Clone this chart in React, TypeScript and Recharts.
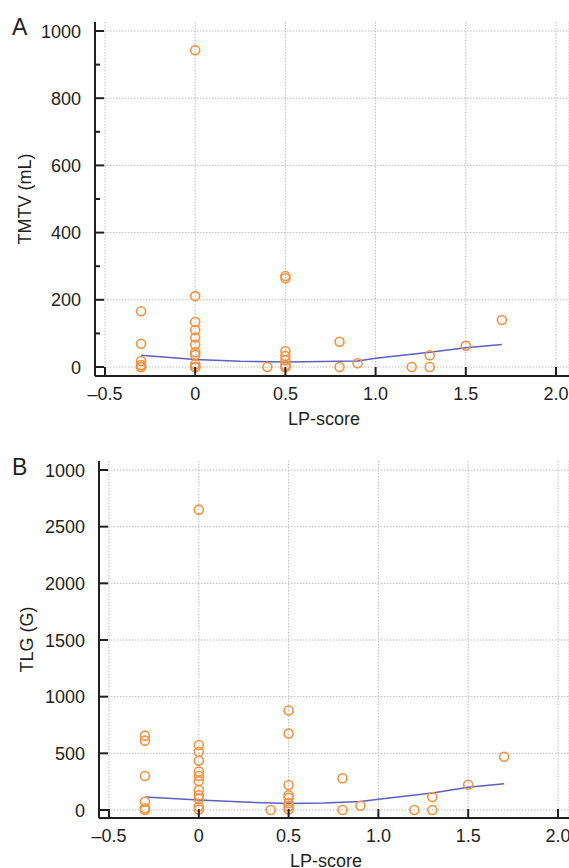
import React from "react";
import { ComposedChart, Scatter, XAxis, YAxis, CartesianGrid, Label, ReferenceLine } from "recharts";

const lpScores = [-0.3, 0, 0.4, 0.5, 0.8, 0.9, 1.2, 1.3, 1.5, 1.7];

// TMTV (mL) per LP-score group
const tmtvValues = [
  [166, 69, 18, 6, 0, 0],
  [943, 211, 134, 110, 88, 66, 44, 36, 8, 0, 0, 0],
  [0],
  [271, 264, 47, 33, 20, 5, 0, 0],
  [75, 0],
  [11],
  [0],
  [35, 0],
  [63],
  [140],
];

// TLG (G) per LP-score group
const tlgValues = [
  [656, 612, 300, 73, 15, 0],
  [2650, 574, 512, 435, 340, 300, 255, 176, 130, 100, 30, 5],
  [0],
  [878, 674, 221, 130, 108, 60, 30, 5],
  [280, 0],
  [38],
  [0],
  [115, 0],
  [223],
  [470],
];

// fitted curves
const fitX = [-0.3, 0, 0.25, 0.5, 0.7, 0.9, 1.0, 1.3, 1.5, 1.7];
const tmtvFit = [35, 22, 17, 15, 16, 18, 26, 44, 57, 67];
const tlgFit = [115, 88, 70, 58, 62, 75, 95, 150, 200, 232];

const xTicks = [-0.5, 0, 0.5, 1, 1.5, 2];
const xTickLabels = ["\u20130.5", "0", "0.5", "1.0", "1.5", "2.0"];
const tmtvTicks = [0, 100, 200, 300, 400, 500, 600, 700, 800, 900, 1000];
const tmtvMajor = [0, 200, 400, 600, 800, 1000];
const tlgTicks = [0, 500, 1000, 1500, 2000, 2500, 3000];
const tlgTickLabels = ["0", "500", "1000", "1500", "2000", "2500", "1000"];

const toPoints = (groups: number[][]) =>
  groups.flatMap((vals, i) => vals.map((y) => ({ x: lpScores[i], y })));
const toCurve = (ys: number[]) => ys.map((y, i) => ({ x: fitX[i], y }));

const INK = "#231f20";
const ORANGE = "#f7913f";
const BLUE = "#5d5fc4";
const GRID = "#bdbdbd";
const FONT = 18;

const Dot = (p: any) => (
  <circle cx={p.cx} cy={p.cy} r={4.5} fill="none" stroke={ORANGE} strokeWidth={1.6} />
);
const NoDot = () => <g />;

const XTick = (p: any) => {
  const i = xTicks.indexOf(p.payload.value);
  return (
    <g>
      <line x1={p.x} y1={p.y} x2={p.x} y2={p.y - 9} stroke={INK} strokeWidth={2} />
      <text x={p.x} y={p.y + 24} textAnchor="middle" fontSize={FONT} fill={INK}>
        {xTickLabels[i]}
      </text>
    </g>
  );
};

const makeYTick = (majors: number[], labels?: string[], ticks?: number[]) => (p: any) => {
  const v = p.payload.value;
  const major = majors.includes(v);
  const label = labels && ticks ? labels[ticks.indexOf(v)] : String(v);
  return (
    <g>
      <line x1={p.x} y1={p.y} x2={p.x + (major ? 9 : 5)} y2={p.y} stroke={INK} strokeWidth={2} />
      {major && (
        <text x={p.x - 14} y={p.y + 6.5} textAnchor="end" fontSize={FONT} fill={INK}>
          {label}
        </text>
      )}
    </g>
  );
};

const yTitle = (text: string, x: number) => (p: any) => {
  const vb = p.viewBox;
  const cy = vb.y + vb.height / 2;
  return (
    <text x={x} y={cy} transform={`rotate(-90, ${x}, ${cy})`} textAnchor="middle" dominantBaseline="central" fontSize={FONT} fill={INK}>
      {text}
    </text>
  );
};

const xTitle = (text: string, dx: number, dy: number) => (p: any) => {
  const vb = p.viewBox;
  return (
    <text x={vb.x + vb.width / 2 + dx} y={vb.y + dy} textAnchor="middle" fontSize={FONT} fill={INK}>
      {text}
    </text>
  );
};

type PanelProps = {
  letter: string;
  letterTop: number;
  title: string;
  points: { x: number; y: number }[];
  curve: { x: number; y: number }[];
  yDomain: [number, number];
  yTicks: number[];
  yMajor: number[];
  yLabels?: string[];
  height: number;
  top: number;
  axisWidth: number;
  xPad: { left: number; right: number };
  yPad: { top: number; bottom: number };
  xAxisHeight: number;
  titleX: number;
};

function Panel(props: PanelProps) {
  const { letter, title, points, curve, yDomain, yTicks, yMajor, yLabels } = props;
  return (
    <div style={{ position: "relative", width: 569, height: props.height }}>
      <div style={{ position: "absolute", left: 12, top: props.letterTop, fontSize: 23, lineHeight: "23px", color: INK }}>
        {letter}
      </div>
      <ComposedChart
        width={569 + 2}
        height={props.height}
        margin={{ top: props.top, right: 2, bottom: 0, left: 0 }}
      >
        <CartesianGrid horizontal={false} stroke={GRID} strokeDasharray="1.5 1.5" />
        {yMajor.map((v) => (
          <ReferenceLine key={v} y={v} stroke={GRID} strokeDasharray="1.5 1.5" />
        ))}
        <XAxis
          type="number"
          dataKey="x"
          domain={[-0.5, 2]}
          ticks={xTicks}
          interval={0}
          padding={props.xPad}
          height={props.xAxisHeight}
          tickSize={0}
          tickMargin={0}
          tickLine={false}
          axisLine={{ stroke: INK, strokeWidth: 2 }}
          tick={XTick}
        >
          <Label content={xTitle("LP-score", -8, 49)} />
        </XAxis>
        <YAxis
          type="number"
          dataKey="y"
          domain={yDomain}
          ticks={yTicks}
          interval={0}
          padding={props.yPad}
          width={props.axisWidth}
          tickSize={0}
          tickMargin={0}
          tickLine={false}
          axisLine={{ stroke: INK, strokeWidth: 2 }}
          tick={makeYTick(yMajor, yLabels, yTicks)}
        >
          <Label content={yTitle(title, props.titleX)} />
        </YAxis>
        <Scatter
          data={curve}
          shape={NoDot}
          line={{ stroke: BLUE, strokeWidth: 1.5 }}
          lineType="joint"
          isAnimationActive={false}
        />
        <Scatter data={points} shape={Dot} isAnimationActive={false} />
      </ComposedChart>
    </div>
  );
}

export default function App() {
  return (
    <div
      style={{
        position: "absolute",
        left: 0,
        top: 0,
        width: 569,
        height: 868,
        overflow: "hidden",
        fontFamily: '"Liberation Sans", Arial, Helvetica, sans-serif',
        background: "#fff",
      }}
    >
      <Panel
        letter="A"
        letterTop={16}
        title="TMTV (mL)"
        points={toPoints(tmtvValues)}
        curve={toCurve(tmtvFit)}
        yDomain={[0, 1000]}
        yTicks={tmtvTicks}
        yMajor={tmtvMajor}
        height={430}
        top={22}
        axisWidth={95}
        xPad={{ left: 10, right: 13 }}
        yPad={{ top: 9, bottom: 9 }}
        xAxisHeight={54}
        titleX={25}
      />
      <Panel
        letter="B"
        letterTop={26}
        title="TLG (G)"
        points={toPoints(tlgValues)}
        curve={toCurve(tlgFit)}
        yDomain={[0, 3000]}
        yTicks={tlgTicks}
        yMajor={tlgTicks}
        yLabels={tlgTickLabels}
        height={438}
        top={31}
        axisWidth={99}
        xPad={{ left: 10, right: 11 }}
        yPad={{ top: 9, bottom: 8 }}
        xAxisHeight={50}
        titleX={27}
      />
    </div>
  );
}
